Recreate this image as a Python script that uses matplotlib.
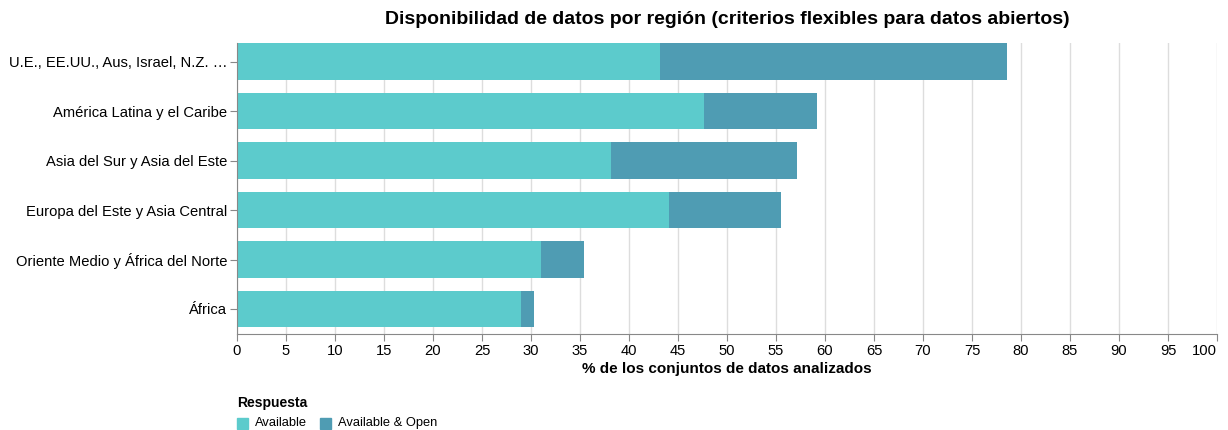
import matplotlib.pyplot as plt
import numpy as np

regions = ['U.E., EE.UU., Aus, Israel, N.Z. …', 'América Latina y el Caribe',
           'Asia del Sur y Asia del Este', 'Europa del Este y Asia Central',
           'Oriente Medio y África del Norte', 'África']
available = [43.2, 47.7, 38.2, 44.1, 31.0, 29.0]
available_open = [35.4, 11.5, 18.9, 11.4, 4.4, 1.3]
series = ['Available', 'Available & Open']
colors = ['#5ccbcc', '#4f9cb3']

plt.rcParams['font.family'] = ['Liberation Sans', 'DejaVu Sans']

W, H = 1228, 430
fig = plt.figure(figsize=(W / 100, H / 100), dpi=100)
ax = fig.add_axes([237 / W, 1 - 334 / H, (1217 - 237) / W, (334 - 43) / H])

y = np.arange(len(regions))
ax.barh(y, available, height=0.74, color=colors[0], label=series[0], zorder=2)
ax.barh(y, available_open, left=available, height=0.74, color=colors[1], label=series[1], zorder=2)

ax.set_xlim(0, 100)
ax.set_ylim(5.506, -0.378)
ax.set_xticks(np.arange(0, 101, 5))
ax.set_yticks(y)
ax.set_yticklabels(regions)
ax.grid(axis='x', color='#dddddd', linewidth=1, zorder=0)
for s in ['top', 'right']:
    ax.spines[s].set_visible(False)
for s in ['left', 'bottom']:
    ax.spines[s].set_color('#888888')
ax.tick_params(axis='both', colors='#888888', labelcolor='black', labelsize=10.6, length=5, pad=2)
# keep the last label inside the figure, like the original
ax.get_xticklabels()[-1].set_ha('right')
ax.get_xticklabels()[-1].set_x(100)
ax.set_xlabel('% de los conjuntos de datos analizados', fontsize=11, fontweight='bold', labelpad=3)
ax.set_title('Disponibilidad de datos por región (criterios flexibles para datos abiertos)',
             fontsize=14, fontweight='bold', pad=14)

# legend
fig.text(237 / W, 1 - 403 / H, 'Respuesta', fontsize=10, fontweight='bold', va='center')
leg_x = [237, 320]
for i, name in enumerate(series):
    fig.patches.append(plt.Rectangle((leg_x[i] / W, 1 - 429 / H), 11 / W, 11 / H,
                                     transform=fig.transFigure, color=colors[i]))
    fig.text((leg_x[i] + 18) / W, 1 - 423 / H, name, fontsize=9.3, va='center')

fig.savefig('out.png', dpi=100)
